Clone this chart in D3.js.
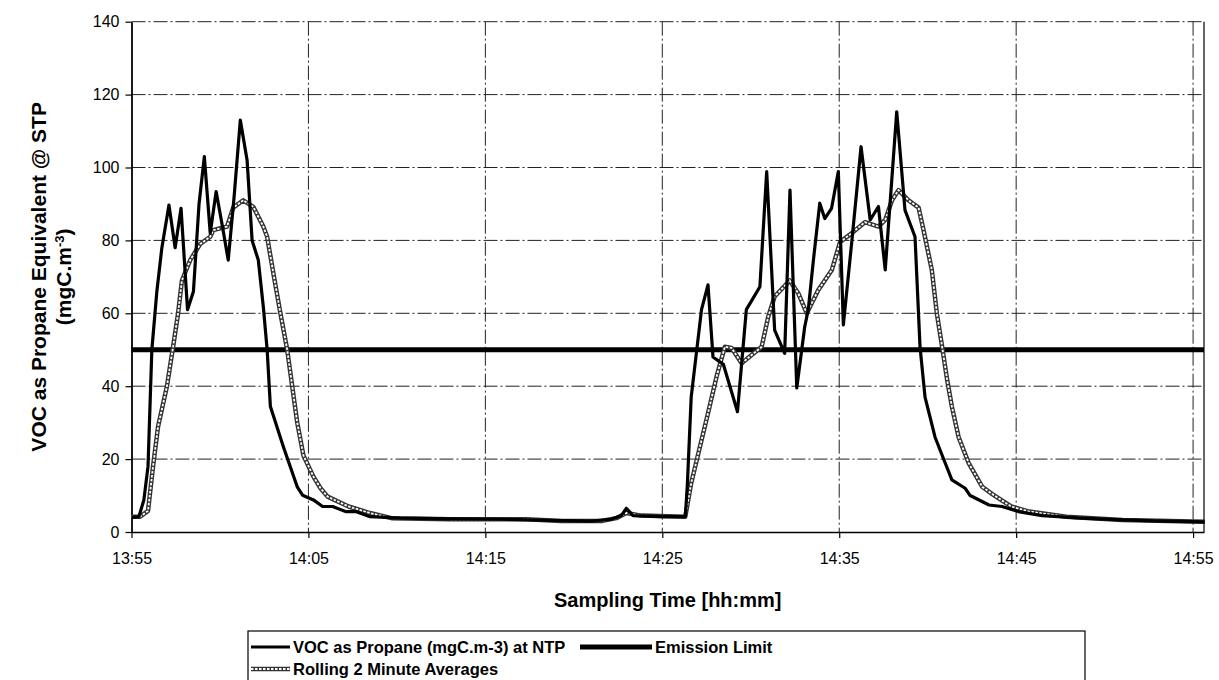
<!DOCTYPE html>
<html>
<head>
<meta charset="utf-8">
<script src="https://cdn.jsdelivr.net/npm/d3@7"></script>
<style>
  html, body { margin: 0; padding: 0; background: #fff; }
  svg { display: block; }
  text { font-family: Arial, "Liberation Sans", sans-serif; fill: #000; }
</style>
</head>
<body>
<svg id="chart" width="1219" height="680"></svg>
<script>
// ---- data ----
const vocTimes = ["13:55:00","13:55:25","13:55:42","13:55:56","13:56:09","13:56:26","13:56:43","13:57:07","13:57:28","13:57:48",
  "13:58:10","13:58:30","13:58:49","13:59:07","13:59:27","13:59:47","14:00:08","14:00:28","14:00:48","14:01:09",
  "14:01:32","14:01:49","14:02:10","14:02:27","14:02:40","14:02:51","14:03:35","14:04:22","14:04:40","14:05:17",
  "14:05:48","14:06:22","14:07:06","14:07:40","14:08:29","14:10:13","14:13:03","14:15:53","14:18:43","14:20:59",
  "14:22:07","14:22:41","14:22:58","14:23:21","14:24:57","14:26:18","14:26:25","14:26:38","14:27:13","14:27:35",
  "14:27:52","14:28:27","14:29:15","14:29:45","14:30:31","14:30:54","14:31:21","14:31:55","14:32:13","14:32:36",
  "14:33:03","14:33:15","14:33:33","14:33:54","14:34:11","14:34:34","14:34:57","14:35:14","14:35:43","14:36:14",
  "14:36:45","14:37:13","14:37:36","14:38:15","14:38:43","14:39:17","14:39:34","14:39:51","14:40:25","14:40:59",
  "14:41:22","14:42:07","14:42:24","14:43:28","14:44:12","14:45:07","14:46:28","14:48:44","14:51:00","14:53:16","14:55:40"];
const vocValues = [4,4.2,8.8,18,50,66,78,89.7,78,88.8,
  61,66,90,103,82,93.4,84,74.6,92,113,
  102,80,74.6,61.8,50,34.4,23.4,12.4,10.1,8.8,
  7,7,5.6,5.6,4.2,3.8,3.6,3.5,3.2,3.0,
  3.5,4.5,6.5,4.5,4.2,4.2,13,37,61,67.8,
  48,46,33,61,67.3,98.9,55.4,49,93.8,39.5,
  56.3,61,75,90.2,86,88.8,98.9,56.8,80,105.7,
  85.6,89.3,71.9,115.3,88.3,81,50.8,37,26,19,
  14.3,12,10,7.4,7,5.6,4.5,3.8,3.3,3.0,2.8];

const avgTimes = ["13:55:00","13:55:29","13:55:56","13:56:13","13:56:30","13:57:00","13:57:21","13:57:38","13:57:51","13:58:19",
  "13:58:53","13:59:27","13:59:37","14:00:24","14:00:45","14:01:19","14:01:53","14:02:27","14:02:40","14:03:01",
  "14:03:25","14:03:48","14:04:05","14:04:22","14:04:43","14:05:17","14:05:41","14:06:05","14:07:16","14:08:29",
  "14:09:42","14:13:03","14:17:18","14:19:17","14:21:33","14:22:24","14:22:58","14:23:49","14:26:18","14:26:38",
  "14:27:35","14:28:04","14:28:32","14:28:55","14:29:29","14:30:37","14:30:59","14:31:21","14:32:12","14:32:41",
  "14:33:10","14:33:49","14:34:35","14:35:03","14:35:43","14:36:27","14:37:13","14:37:36","14:37:59","14:38:21",
  "14:38:55","14:39:29","14:39:46","14:40:14","14:40:31","14:40:49","14:41:06","14:41:22","14:41:45","14:42:19",
  "14:43:05","14:43:39","14:44:43","14:45:44","14:47:50","14:51:00","14:55:40"];
const avgValues = [4.2,4.2,5.8,18,28.9,39.9,50.8,60,69,74.6,
  79,81,82.8,83.8,89,91,89.2,83.8,81,71,
  60,50,40,30,21,15.2,12,9.7,7,5.2,
  3.8,3.5,3.5,3.0,3.0,3.8,5.2,4.5,4.2,13.4,
  32.6,42.6,50.8,50.5,46.3,50.8,59,64.6,69,65.5,
  60,66.4,71.9,79.6,82,85,83.8,85.6,91,93.8,
  91,89,82.8,71.9,60,50.8,41.7,34.4,26,18.9,
  12.4,10.4,7,5.6,4.2,3.3,2.8];

const emissionLimit = 50;
const xTickLabels = ["13:55","14:05","14:15","14:25","14:35","14:45","14:55"];
const yTicks = [0,20,40,60,80,100,120,140];
const seriesNames = ["VOC as Propane (mgC.m-3) at NTP","Emission Limit","Rolling 2 Minute Averages"];

// ---- layout ----
const svg = d3.select("#chart");
const parse = d3.timeParse("%H:%M:%S");
const parseTick = d3.timeParse("%H:%M");
const pL = 131.5, pR = 1204, pT = 21.7, pB = 532;

const x = d3.scaleTime()
  .domain([parse("13:55:00"), parse("14:55:37")])
  .range([pL, pR]);
const y = d3.scaleLinear().domain([0, 140]).range([pB, pT]);

const tickDates = xTickLabels.map(parseTick);

// gridlines
const grid = svg.append("g").attr("stroke", "#222").attr("stroke-width", 1)
  .attr("stroke-dasharray", "14,3,2,3").attr("fill", "none");
grid.selectAll("line.h").data(yTicks.filter(d => d > 0)).join("line")
  .attr("x1", pL).attr("x2", pR)
  .attr("y1", d => y(d)).attr("y2", d => y(d));
grid.selectAll("line.v").data(tickDates.slice(1)).join("line")
  .attr("x1", d => x(d)).attr("x2", d => x(d))
  .attr("y1", pT).attr("y2", pB);

// right border
svg.append("line").attr("x1", pR).attr("x2", pR).attr("y1", pT).attr("y2", pB)
  .attr("stroke", "#000").attr("stroke-width", 1.2);

// axes
const xAxis = d3.axisBottom(x).tickValues(tickDates).tickFormat(d3.timeFormat("%H:%M"))
  .tickSizeInner(6).tickSizeOuter(0).tickPadding(15);
const gx = svg.append("g").attr("transform", `translate(0,${pB})`).call(xAxis);
gx.select(".domain").attr("stroke", "#000").attr("stroke-width", 1.6);
gx.selectAll(".tick line").attr("stroke", "#000").attr("stroke-width", 1.2);
gx.selectAll(".tick text").attr("font-size", 16).attr("font-family", "Arial, Liberation Sans, sans-serif");

const yAxis = d3.axisLeft(y).tickValues(yTicks).tickSizeInner(6).tickSizeOuter(0).tickPadding(6);
const gy = svg.append("g").attr("transform", `translate(${pL},0)`).call(yAxis);
gy.select(".domain").attr("stroke", "#000").attr("stroke-width", 1.8);
gy.selectAll(".tick line").attr("stroke", "#000").attr("stroke-width", 1.2);
gy.selectAll(".tick text").attr("font-size", 16).attr("font-family", "Arial, Liberation Sans, sans-serif");

// emission limit
svg.append("line")
  .attr("x1", pL).attr("x2", pR)
  .attr("y1", y(emissionLimit)).attr("y2", y(emissionLimit))
  .attr("stroke", "#000").attr("stroke-width", 5);

// series
const vocData = vocTimes.map((t, i) => ({ t: parse(t), v: vocValues[i] }));
const avgData = avgTimes.map((t, i) => ({ t: parse(t), v: avgValues[i] }));
const line = d3.line().x(d => x(d.t)).y(d => y(d.v));

svg.append("path").datum(avgData).attr("d", line)
  .attr("fill", "none").attr("stroke", "#333").attr("stroke-width", 4.5).attr("stroke-linejoin", "round");
svg.append("path").datum(avgData).attr("d", line)
  .attr("fill", "none").attr("stroke", "#fff").attr("stroke-width", 1.8).attr("stroke-dasharray", "2.5,1.5");

svg.append("path").datum(vocData).attr("d", line)
  .attr("fill", "none").attr("stroke", "#000").attr("stroke-width", 3.2).attr("stroke-linejoin", "round");

// axis titles
svg.append("text").attr("x", (pL + pR) / 2).attr("y", 607)
  .attr("text-anchor", "middle").attr("font-weight", "bold").attr("font-size", 20)
  .text("Sampling Time [hh:mm]");

const yt = svg.append("g").attr("transform", `translate(0,${(pT + pB) / 2}) rotate(-90)`);
yt.append("text").attr("x", 0).attr("y", 46).attr("text-anchor", "middle")
  .attr("font-weight", "bold").attr("font-size", 21)
  .text("VOC as Propane Equivalent @ STP");
const yt2 = yt.append("text").attr("x", 0).attr("y", 71).attr("text-anchor", "middle")
  .attr("font-weight", "bold").attr("font-size", 21);
yt2.append("tspan").text("(mgC.m");
yt2.append("tspan").attr("baseline-shift", "super").attr("font-size", 13).text("-3");
yt2.append("tspan").text(")");

// legend
const lg = svg.append("g");
lg.append("rect").attr("x", 248).attr("y", 631).attr("width", 837).attr("height", 60)
  .attr("fill", "#fff").attr("stroke", "#000").attr("stroke-width", 1.2);
const row1 = 647, row2 = 669;
lg.append("line").attr("x1", 251).attr("x2", 290).attr("y1", row1).attr("y2", row1)
  .attr("stroke", "#000").attr("stroke-width", 3.2);
lg.append("text").attr("x", 293).attr("y", row1).attr("dy", "0.36em")
  .attr("font-weight", "bold").attr("font-size", 16.5).text(seriesNames[0]);
lg.append("line").attr("x1", 580).attr("x2", 652).attr("y1", row1).attr("y2", row1)
  .attr("stroke", "#000").attr("stroke-width", 5);
lg.append("text").attr("x", 655).attr("y", row1).attr("dy", "0.36em")
  .attr("font-weight", "bold").attr("font-size", 16.5).text(seriesNames[1]);
lg.append("line").attr("x1", 251).attr("x2", 290).attr("y1", row2).attr("y2", row2)
  .attr("stroke", "#333").attr("stroke-width", 4.5);
lg.append("line").attr("x1", 251).attr("x2", 290).attr("y1", row2).attr("y2", row2)
  .attr("stroke", "#fff").attr("stroke-width", 1.8).attr("stroke-dasharray", "2.5,1.5");
lg.append("text").attr("x", 293).attr("y", row2).attr("dy", "0.36em")
  .attr("font-weight", "bold").attr("font-size", 16.5).text(seriesNames[2]);
</script>
</body>
</html>
